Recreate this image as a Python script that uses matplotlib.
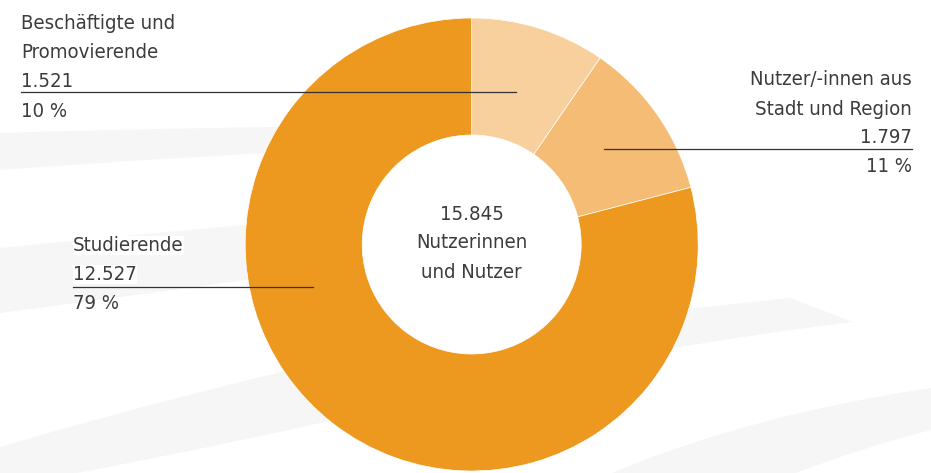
import matplotlib
matplotlib.use('Agg')
import matplotlib.pyplot as plt
from matplotlib.path import Path
from matplotlib.patches import PathPatch, Circle

# Daten
labels = ["Beschäftigte und\nPromovierende", "Nutzer/-innen aus\nStadt und Region", "Studierende"]
values = [1521, 1797, 12527]
colors = ["#F8D09D", "#F5BC76", "#ED981E"]

W, H = 931, 473
total = sum(values)


def fmt(n):
    return f"{n:,}".replace(",", ".")


def Y(y):
    # Pixel von oben -> Datenkoordinate
    return H - y


plt.rcParams['font.family'] = ['DejaVu Sans']
plt.rcParams['font.stretch'] = 'condensed'
txt_color = "#3c3c3c"
fs = 14.6

fig = plt.figure(figsize=(W / 100, H / 100), dpi=100)
ax = fig.add_axes([0, 0, 1, 1])

# Hintergrund-Schwünge (hellgrau)
bands = [
    [(0, 133), (200, 127), (380, 126), (380, 148), (200, 155), (0, 170)],
    [(0, 248), (200, 228), (330, 218), (330, 268), (200, 287), (0, 313)],
    [(0, 447), (200, 388), (400, 345), (400, 405), (250, 440), (77, 473)],
    [(612, 473), (750, 415), (931, 388), (931, 430), (860, 448), (796, 473)],
]
for b in bands:
    verts = [(x, Y(y)) for x, y in b]
    verts = verts + [verts[0]]
    codes = [Path.MOVETO, Path.CURVE3, Path.CURVE3, Path.LINETO,
             Path.CURVE3, Path.CURVE3, Path.CLOSEPOLY]
    if b[-1] == (77, 473):
        verts = verts[:-1] + [(0, Y(473)), verts[0]]
        codes = codes[:-1] + [Path.LINETO, Path.CLOSEPOLY]
    ax.add_patch(PathPatch(Path(verts, codes), fc="#f6f6f6", ec="none", zorder=0))

tip = [(650, 313), (790, 298), (853, 322), (760, 333), (650, 352), (650, 313)]
ax.add_patch(PathPatch(Path([(x, Y(y)) for x, y in tip],
                            [Path.MOVETO, Path.LINETO, Path.LINETO, Path.CURVE3,
                             Path.CURVE3, Path.CLOSEPOLY]),
                       fc="#f6f6f6", ec="none", zorder=0))

# Ring
cx, cy, r = 471.7, Y(244.5), 226.5
wedges, _ = ax.pie(values, colors=colors, startangle=90, counterclock=False,
                   center=(cx, cy), radius=r,
                   wedgeprops=dict(width=117, edgecolor="white", linewidth=0.5))
for w in wedges:
    w.set_zorder(2)
ax.add_patch(Circle((cx, cy), r - 117, fc="white", ec="none", zorder=1))

# Mitte
ax.text(cx, Y(220), fmt(total), ha="center", va="baseline", fontsize=fs, color=txt_color, zorder=5)
ax.text(cx, Y(248), "Nutzerinnen", ha="center", va="baseline", fontsize=fs, color=txt_color, zorder=5)
ax.text(cx, Y(278), "und Nutzer", ha="center", va="baseline", fontsize=fs, color=txt_color, zorder=5)

# Beschriftungen: (x Text, Ausrichtung, Baselines, Linie y, Linie x0, x1)
layout = [
    (21, "left", [29, 58, 87, 117], 92, 21, 516),
    (912, "right", [85, 115, 143, 172], 149, 604, 912),
    (73, "left", [251, 280, 309], 287, 73, 313),
]
for i, (lab, val) in enumerate(zip(labels, values)):
    x, ha, bases, ly, x0, x1 = layout[i]
    pct = round(val / total * 100)
    lines = lab.split("\n") + [fmt(val), f"{pct} %"]
    for s, b in zip(lines, bases):
        bbox = dict(facecolor="white", edgecolor="none", pad=0.3) if i == 2 and s != f"{pct} %" else None
        ax.text(x, Y(b), s, ha=ha, va="baseline", fontsize=fs, color=txt_color, zorder=5, bbox=bbox)
    ax.plot([x0, x1], [Y(ly), Y(ly)], color="#333333", lw=0.9, zorder=4)

ax.set_xlim(0, W)
ax.set_ylim(0, H)
ax.set_aspect("auto")
ax.axis("off")

fig.savefig("out.png", dpi=100, facecolor="white")
